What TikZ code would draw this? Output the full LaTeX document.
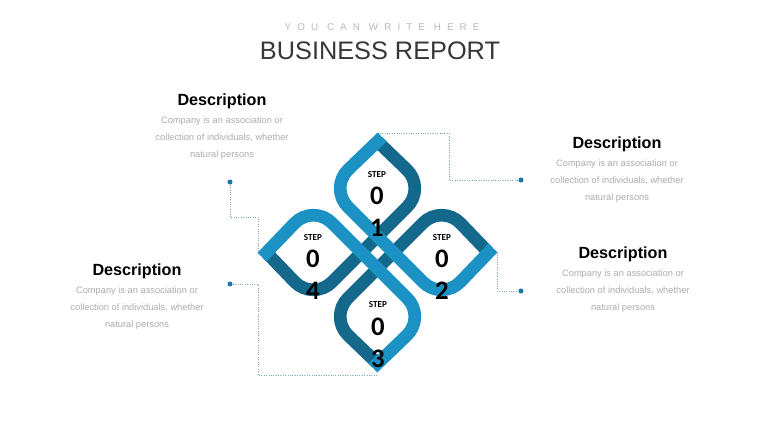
\documentclass[tikz,border=0pt]{standalone}
\usepackage{fontspec}
\setmainfont{Liberation Sans}
\newfontfamily\stepfont{Carlito}
\newfontfamily\spacedfont[LetterSpace=62]{Liberation Sans}
\usetikzlibrary{positioning}
\definecolor{ribbonlight}{RGB}{27,145,196}
\definecolor{ribbondark}{RGB}{20,104,140}
\definecolor{linkblue}{RGB}{120,170,198}
\definecolor{dotblue}{RGB}{25,120,165}
\definecolor{bodygray}{RGB}{172,172,172}
\definecolor{titlegray}{RGB}{55,55,55}
\definecolor{subgray}{RGB}{185,185,185}

\begin{document}
\begin{tikzpicture}[
    x=0.025cm, y=-0.025cm,
    band/.style={line width=9pt, rounded corners=19pt},
    darkband/.style={band, draw=ribbondark, line cap=butt},
    lightband/.style={band, draw=ribbonlight, line cap=rect},
    heading/.style={font=\fontsize{11.5}{13}\selectfont\bfseries, text=black, inner sep=0pt},
    bodytext/.style={font=\fontsize{6.6}{12.1}\selectfont, text=bodygray, align=center, inner sep=0pt},
    steplabel/.style={font=\stepfont\bfseries\fontsize{6.5}{7}\selectfont, inner sep=0pt},
    stepnum/.style={font=\stepfont\bfseries\fontsize{19}{22.8}\selectfont, align=center, inner sep=0pt},
    dot/.style={circle, fill=dotblue, inner sep=0pt, minimum size=3.6pt},
    link/.style={densely dotted, line width=0.7pt, linkblue}
]
\useasboundingbox (0,0) rectangle (760,428);

% Title
\node[font=\fontsize{18}{20}\selectfont, text=titlegray, inner sep=0pt] (title) at (380,51) {BUSINESS REPORT};
\node[font=\spacedfont\fontsize{7}{8}\selectfont, text=subgray, inner sep=0pt, above=7.5pt of title, xshift=1.5pt] (subtitle) {YOU CAN WRITE HERE};

% Ribbon points
\coordinate (tip1) at (377.5,141.5);
\coordinate (tip2) at (488.5,252.5);
\coordinate (tip3) at (377.5,363.5);
\coordinate (tip4) at (266.5,252.5);
\coordinate (c1l) at (329,188);
\coordinate (c1r) at (426,188);
\coordinate (c2t) at (442,204);
\coordinate (c2b) at (442,301);
\coordinate (c3l) at (329,317);
\coordinate (c3r) at (426,317);
\coordinate (c4t) at (313,204);
\coordinate (c4b) at (313,301);
\coordinate (out1) at (377.5,133);
\coordinate (out2) at (497,252.5);
\coordinate (out3) at (377.5,372);
\coordinate (out4) at (258,252.5);

% Dots
\node[dot] (d1) at (230,182) {};
\node[dot] (d2) at (230,284) {};
\node[dot] (d3) at (521,180) {};
\node[dot] (d4) at (521,291) {};
\coordinate (j1) at (258,217);
\coordinate (j2) at (258,375);
\coordinate (j3) at (449,180);

% Connectors
\draw[link] (d1) |- (j1) -- (out4);
\draw[link] (d2) -| (j2) -- (j2 -| out3);
\draw[link] (out1) -| (j3) -- (d3);
\draw[link] (out2) |- (d4);

% Ribbon
\draw[darkband] (tip1) -- (c1r) -- (c4b) -- (tip4);
\draw[darkband] (tip3) -- (c3l) -- (c2t) -- (tip2);
\draw[lightband] (tip4) -- (c4t) -- (c3r) -- (tip3);
\draw[lightband] (tip2) -- (c2b) -- (c1l) -- (tip1);

% Steps
\node[steplabel] (s1) at (377,175) {STEP};
\node[stepnum] (n1) at (377,212) {0\\1};
\node[steplabel] (s2) at (442,238) {STEP};
\node[stepnum] (n2) at (442,275) {0\\2};
\node[steplabel] (s3) at (378,305) {STEP};
\node[stepnum] (n3) at (378,343) {0\\3};
\node[steplabel] (s4) at (313,238) {STEP};
\node[stepnum] (n4) at (313,275) {0\\4};

% Labels
\node[heading] (h1) at (222,101) {Description};
\node[bodytext, below=5.3pt of h1] (b1) {Company is an association or\\collection of individuals, whether\\natural persons};
\node[heading] (h2) at (617,144) {Description};
\node[bodytext, below=5.3pt of h2] (b2) {Company is an association or\\collection of individuals, whether\\natural persons};
\node[heading] (h3) at (623,254) {Description};
\node[bodytext, below=5.3pt of h3] (b3) {Company is an association or\\collection of individuals, whether\\natural persons};
\node[heading] (h4) at (137,271) {Description};
\node[bodytext, below=5.3pt of h4] (b4) {Company is an association or\\collection of individuals, whether\\natural persons};

\end{tikzpicture}
\end{document}
